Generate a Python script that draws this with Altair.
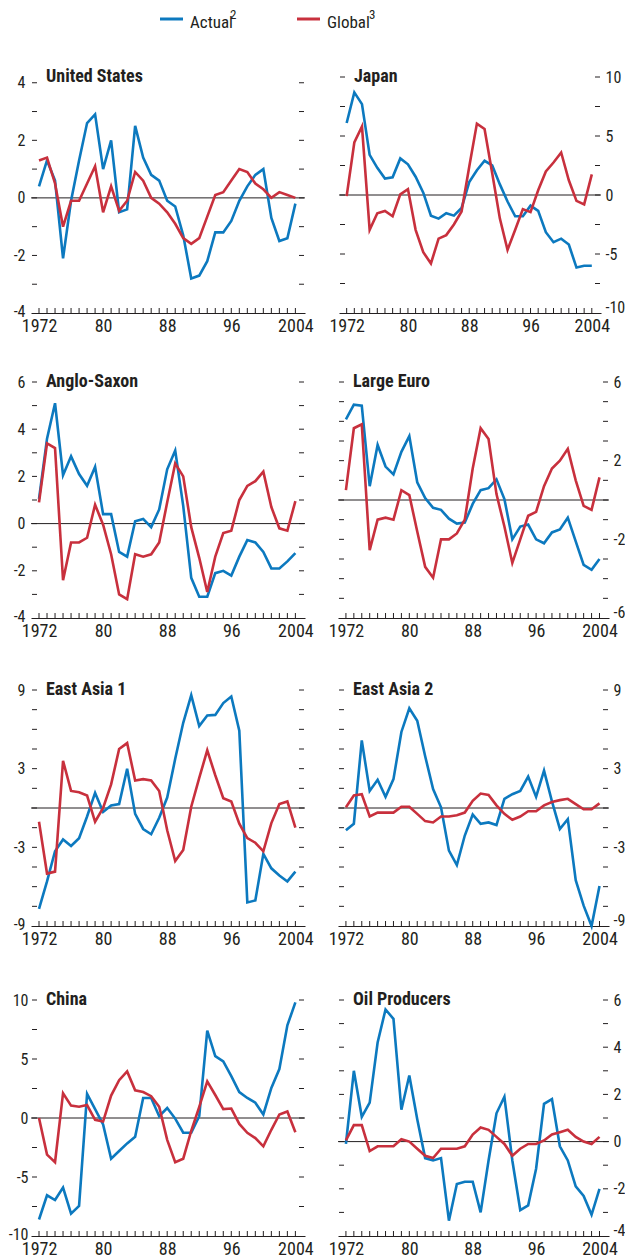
import altair as alt
import pandas as pd

years = list(range(1972, 2005))

us_actual = [0.4, 1.3, 0.6, -2.1, -0.1, 1.3, 2.6, 2.9, 1.0, 2.0, -0.5, -0.4, 2.5, 1.4, 0.8, 0.6, -0.1,
             -0.3, -1.3, -2.8, -2.7, -2.2, -1.2, -1.2, -0.8, -0.1, 0.4, 0.8, 1.0, -0.7, -1.5, -1.4, -0.2]
us_global = [1.3, 1.4, 0.5, -1.0, -0.1, -0.1, 0.5, 1.1, -0.5, 0.4, -0.45, -0.1, 0.9, 0.6, 0.0, -0.2, -0.5,
             -0.9, -1.4, -1.6, -1.4, -0.65, 0.1, 0.2, 0.6, 1.0, 0.9, 0.5, 0.3, 0.0, 0.2, 0.1, 0.0]
jp_actual = [6.1, 8.7, 7.7, 3.4, 2.3, 1.4, 1.5, 3.1, 2.6, 1.55, 0.2, -1.75, -2.0, -1.55, -1.75, -1.1, 1.1,
             2.1, 2.9, 2.5, 0.9, -0.55, -1.8, -1.8, -0.9, -1.35, -3.15, -4.0, -3.7, -4.2, -6.15, -6.0, -6.0]
jp_global = [-0.1, 4.45, 5.8, -2.95, -1.55, -1.35, -1.8, 0.05, 0.5, -2.95, -4.85, -5.8, -3.7, -3.4, -2.5,
             -1.4, 2.4, 6.05, 5.6, 1.85, -2.0, -4.65, -2.95, -1.2, -1.45, 0.4, 2.0, 2.75, 3.6, 1.25, -0.5, -0.8, 1.75]
as_actual = [1.05, 3.6, 5.1, 2.05, 2.85, 2.1, 1.6, 2.4, 0.4, 0.4, -1.2, -1.4, 0.1, 0.2, -0.15, 0.6, 2.3,
             3.1, 0.75, -2.3, -3.1, -3.1, -2.1, -2.0, -2.2, -1.4, -0.7, -0.8, -1.2, -1.9, -1.9, -1.6, -1.25]
as_global = [0.9, 3.4, 3.2, -2.4, -0.8, -0.8, -0.6, 0.8, -0.05, -1.3, -3.0, -3.2, -1.3, -1.4, -1.3, -0.8,
             0.9, 2.55, 2.0, -0.15, -1.45, -2.9, -1.4, -0.4, -0.3, 1.0, 1.6, 1.8, 2.2, 0.7, -0.2, -0.3, 0.95]
le_actual = [4.1, 4.85, 4.8, 0.7, 2.8, 1.7, 1.3, 2.45, 3.25, 0.9, 0.1, -0.4, -0.5, -0.95, -1.2, -1.15, -0.2,
             0.5, 0.6, 1.05, 0.05, -2.0, -1.35, -1.25, -2.0, -2.2, -1.65, -1.5, -0.9, -2.1, -3.3, -3.55, -3.0]
le_global = [0.5, 3.65, 3.85, -2.55, -1.0, -0.9, -1.0, 0.5, 0.25, -1.6, -3.4, -3.95, -2.0, -2.0, -1.7, -1.0,
             1.6, 3.65, 3.1, 0.3, -1.35, -3.2, -2.0, -0.8, -0.6, 0.7, 1.6, 2.0, 2.6, 1.0, -0.3, -0.5, 1.15]
ea1_actual = [-7.7, -5.6, -3.3, -2.4, -2.9, -2.3, -0.65, 1.15, -0.3, 0.2, 0.3, 3.0, -0.45, -1.6, -2.0, -0.75,
              0.8, 3.75, 6.5, 8.6, 6.25, 7.05, 7.1, 8.0, 8.5, 5.9, -7.2, -7.05, -3.5, -4.6, -5.15, -5.6, -4.85]
ea1_global = [-1.05, -5.0, -4.85, 3.6, 1.3, 1.2, 0.95, -1.05, 0.0, 1.8, 4.5, 4.95, 2.1, 2.2, 2.1, 1.3, -1.7,
              -4.05, -3.2, 0.1, 2.3, 4.4, 2.5, 0.75, 0.5, -1.2, -2.3, -2.65, -3.3, -1.15, 0.3, 0.5, -1.5]
ea2_actual = [-1.7, -1.2, 5.15, 1.3, 2.15, 0.85, 2.2, 5.8, 7.6, 6.65, 3.95, 1.45, 0.05, -3.25, -4.35, -2.1,
              -0.5, -1.2, -1.1, -1.3, 0.7, 1.05, 1.3, 2.4, 0.85, 2.85, 0.5, -1.6, -0.85, -5.5, -7.45, -9.0, -5.95]
ea2_global = [0.05, 0.95, 1.05, -0.65, -0.35, -0.35, -0.35, 0.1, 0.1, -0.45, -1.0, -1.1, -0.65, -0.65, -0.55,
              -0.35, 0.55, 1.1, 1.0, 0.2, -0.45, -0.9, -0.65, -0.25, -0.25, 0.2, 0.45, 0.6, 0.7, 0.3, -0.1, -0.1, 0.35]
cn_actual = [-8.6, -6.55, -6.95, -5.9, -8.1, -7.45, 2.05, 0.75, -0.55, -3.45, -2.8, -2.15, -1.6, 1.7, 1.7,
             0.15, 0.85, -0.05, -1.25, -1.25, 0.15, 7.4, 5.25, 4.8, 3.55, 2.2, 1.7, 1.3, 0.3, 2.55, 4.15, 7.85, 9.8]
cn_global = [0.0, -3.1, -3.75, 2.1, 1.05, 0.95, 1.1, -0.15, -0.3, 1.9, 3.2, 3.95, 2.35, 2.2, 1.85, 0.95, -1.85,
             -3.75, -3.45, -1.1, 0.95, 3.1, 1.95, 0.75, 0.8, -0.5, -1.25, -1.7, -2.4, -1.0, 0.3, 0.55, -1.2]
oil_actual = [-0.1, 3.0, 1.05, 1.65, 4.2, 5.6, 5.2, 1.35, 2.8, 0.95, -0.7, -0.8, -0.7, -3.35, -1.8, -1.7, -1.7,
              -3.0, -0.8, 1.2, 1.9, -0.8, -2.9, -2.7, -1.15, 1.6, 1.8, -0.2, -0.8, -1.9, -2.3, -3.1, -2.0]
oil_global = [0.05, 0.7, 0.7, -0.4, -0.2, -0.2, -0.2, 0.1, 0.0, -0.3, -0.6, -0.7, -0.3, -0.3, -0.3, -0.2, 0.3,
              0.6, 0.5, 0.2, -0.1, -0.6, -0.3, -0.1, -0.1, 0.05, 0.3, 0.4, 0.5, 0.2, 0.0, -0.1, 0.2]

series_names = ["Actual", "Global"]
series_sup = ["2", "3"]
label_years = [1972, 1980, 1988, 1996, 2004]

BLUE = "#0c79bf"
RED = "#c8303d"
INK = "#231f20"
FONT = "Roboto Condensed, Roboto, Liberation Sans, sans-serif"
H = 236


def panel(name, actual, glob, lo, hi, major, minor, side, width, top=None, lpad=6):
    top = hi if top is None else top
    df = pd.DataFrame({"year": years * 2,
                       "value": actual + glob,
                       "series": [series_names[0]] * len(years) + [series_names[1]] * len(years)})
    xscale = alt.Scale(domain=[1971, 2005.2], nice=False, zero=False)
    yscale = alt.Scale(domain=[lo, top], nice=False, zero=False)
    n_major = int(round((hi - lo) / major))
    major_vals = [lo + i * major for i in range(n_major + 1)]
    n_minor = int(round((hi - lo) / minor))
    minor_vals = [lo + i * minor for i in range(1, n_minor + 1)]

    xaxis = alt.Axis(values=label_years, ticks=False, domain=True, domainColor=INK, domainWidth=1,
                     grid=False, title=None, labelFontSize=18, labelFont=FONT, labelColor=INK,
                     labelPadding=4,
                     labelExpr="(datum.value==1972||datum.value==2004) ? toString(datum.value) : toString(datum.value % 100)")
    low_off = 3 if side == "left" else -1
    baseline = {"condition": {"test": f"datum.value == {lo}", "value": "alphabetic"}, "value": "middle"}
    offset = {"condition": {"test": f"datum.value == {lo}", "value": low_off}, "value": 0}
    yaxis = alt.Axis(orient=side, values=major_vals, ticks=False, domain=False, grid=False, title=None,
                     labelFontSize=16, labelFont=FONT, labelColor=INK, labelPadding=lpad,
                     labelBaseline=baseline, labelOffset=offset,
                     labelExpr="toString(datum.value)")

    lines = alt.Chart(df).mark_line(strokeWidth=2.6, clip=False).encode(
        x=alt.X("year:Q", scale=xscale, axis=xaxis),
        y=alt.Y("value:Q", scale=yscale, axis=yaxis),
        color=alt.Color("series:N", scale=alt.Scale(domain=series_names, range=[BLUE, RED]), legend=None),
    )
    zero = alt.Chart(pd.DataFrame({"z": [0]})).mark_rule(color=INK, strokeWidth=1).encode(
        y=alt.Y("z:Q", scale=yscale), x=alt.value(0), x2=alt.value(width))
    tdf = pd.DataFrame({"t": minor_vals})
    lt = alt.Chart(tdf).mark_rule(color=INK, strokeWidth=1).encode(
        y=alt.Y("t:Q", scale=yscale), x=alt.value(1), x2=alt.value(6))
    rt = alt.Chart(tdf).mark_rule(color=INK, strokeWidth=1).encode(
        y=alt.Y("t:Q", scale=yscale), x=alt.value(width - 6), x2=alt.value(width - 1))
    xt = alt.Chart(pd.DataFrame({"yr": years})).mark_rule(color=INK, strokeWidth=1).encode(
        x=alt.X("yr:Q", scale=xscale), y=alt.value(H - 5), y2=alt.value(H))
    title = alt.Chart(pd.DataFrame({"n": [name]})).mark_text(
        align="left", baseline="middle", fontSize=18, fontWeight="bold", font=FONT, color=INK
    ).encode(text="n:N", x=alt.value(15), y=alt.value(0))
    return alt.layer(zero, xt, lt, rt, lines, title).properties(width=width, height=H)


# legend (custom, to allow superscript note numbers)
def leg_line(color, x0):
    return alt.Chart(pd.DataFrame({"c": [color]})).mark_rule(strokeWidth=3, color=color).encode(
        x=alt.value(x0), x2=alt.value(x0 + 23), y=alt.value(11))


def leg_text(txt, x0, y0, size):
    return alt.Chart(pd.DataFrame({"t": [txt]})).mark_text(
        align="left", baseline="alphabetic", fontSize=size, font=FONT, color=INK).encode(
        x=alt.value(x0), y=alt.value(y0), text="t:N")


legend = alt.layer(
    leg_line(BLUE, 129), leg_text(series_names[0], 159, 20, 17), leg_text(series_sup[0], 199, 11, 13),
    leg_line(RED, 266), leg_text(series_names[1], 296, 20, 17), leg_text(series_sup[1], 338, 11, 13),
).properties(width=560, height=22)

row1 = alt.hconcat(panel("United States", us_actual, us_global, -4, 4, 2, 1, "left", 274, top=4.2),
                   panel("Japan", jp_actual, jp_global, -10, 10, 5, 2.5, "right", 262, lpad=4), spacing=14)
row2 = alt.hconcat(panel("Anglo-Saxon", as_actual, as_global, -4, 6, 2, 1, "left", 274),
                   panel("Large Euro", le_actual, le_global, -6, 6, 2, 1, "right", 271, lpad=4), spacing=14)
row3 = alt.hconcat(panel("East Asia 1", ea1_actual, ea1_global, -9, 9, 3, 1.5, "left", 274),
                   panel("East Asia 2", ea2_actual, ea2_global, -9, 9, 3, 1.5, "right", 271, lpad=4), spacing=14)
row4 = alt.hconcat(panel("China", cn_actual, cn_global, -10, 10, 5, 2.5, "left", 274, lpad=3),
                   panel("Oil Producers", oil_actual, oil_global, -4, 6, 2, 1, "right", 271, lpad=4), spacing=14)

rows = alt.vconcat(alt.vconcat(row1, row2, spacing=38), alt.vconcat(row3, row4, spacing=43), spacing=41)
chart = alt.vconcat(legend, rows, spacing=37).properties(
    padding={"left": 0, "top": 0, "right": 0, "bottom": 0}
).configure_view(stroke=None)

chart.save("out.html", embed_options={"renderer": "svg", "actions": False})
